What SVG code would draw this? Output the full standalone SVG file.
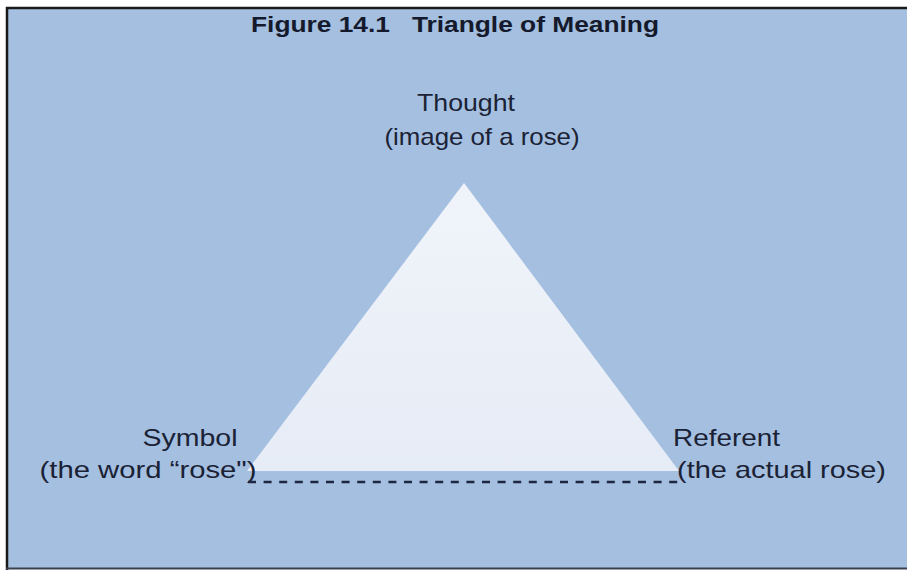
<svg xmlns="http://www.w3.org/2000/svg" width="907" height="570" viewBox="0 0 907 570">
<defs>
<style>
.t{font-family:"Liberation Sans",Arial,sans-serif;fill:#1b2235;font-size:24px}
.title{font-family:"Liberation Sans",Arial,sans-serif;fill:#141a2c;font-size:22px;font-weight:bold}
</style>
<linearGradient id="tri" x1="0" y1="0" x2="0" y2="1">
<stop offset="0" stop-color="#f0f4fa"/>
<stop offset="1" stop-color="#e6ecf6"/>
</linearGradient>
</defs>
<rect x="0" y="0" width="907" height="570" fill="#ffffff"/>
<rect x="7" y="8" width="900" height="560" fill="#a4bfe0"/>
<line x1="6" y1="8" x2="907" y2="8" stroke="#1a1a1a" stroke-width="2.5"/>
<line x1="7" y1="7" x2="7" y2="570" stroke="#1a1a1a" stroke-width="2.5"/>
<line x1="6" y1="568.5" x2="907" y2="568.5" stroke="#3a4050" stroke-width="2"/>
<text class="title" x="455" y="32" text-anchor="middle" textLength="408" lengthAdjust="spacingAndGlyphs" xml:space="preserve">Figure 14.1   Triangle of Meaning</text>
<g id="triangle">
<polygon points="464,183 247,471 679,471" fill="url(#tri)"/>
</g>
<g id="thought">
<text class="t" x="466" y="111" text-anchor="middle" textLength="98" lengthAdjust="spacingAndGlyphs">Thought</text>
<text class="t" x="482" y="145" text-anchor="middle" textLength="195" lengthAdjust="spacingAndGlyphs">(image of a rose)</text>
</g>
<g id="symbol">
<text class="t" x="190" y="446" text-anchor="middle" textLength="95" lengthAdjust="spacingAndGlyphs">Symbol</text>
<text class="t" x="148" y="478" text-anchor="middle" textLength="217" lengthAdjust="spacingAndGlyphs">(the word “rose")</text>
</g>
<g id="referent">
<text class="t" x="673" y="446" textLength="107" lengthAdjust="spacingAndGlyphs">Referent</text>
<text class="t" x="677" y="478" textLength="209" lengthAdjust="spacingAndGlyphs">(the actual rose)</text>
</g>
<g id="connectors">
<line x1="248" y1="482" x2="684" y2="482" stroke="#1f2740" stroke-width="2.5" stroke-dasharray="8,7.6"/>
</g>
</svg>
